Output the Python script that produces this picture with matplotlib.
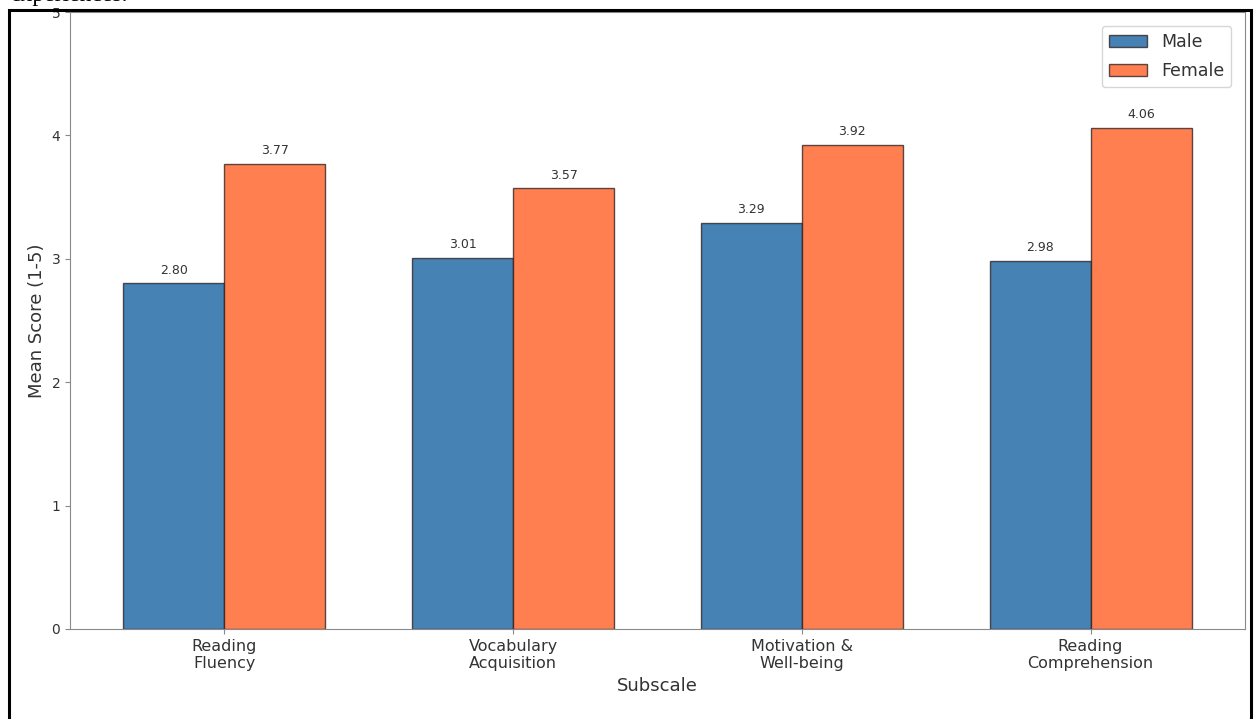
import matplotlib
matplotlib.use('Agg')
import matplotlib.pyplot as plt
import numpy as np
from matplotlib.patches import Rectangle

subscales = ['Reading\nFluency', 'Vocabulary\nAcquisition', 'Motivation &\nWell-being', 'Reading\nComprehension']
male_scores = [2.80, 3.01, 3.29, 2.98]
female_scores = [3.77, 3.57, 3.92, 4.06]

W, H = 1258, 719
fig = plt.figure(figsize=(W / 100, H / 100), dpi=100)
ax = fig.add_axes([70 / W, 1 - 629 / H, (1245 - 70) / W, (629 - 12) / H])

x = np.arange(len(subscales))
width = 0.35
edge = (0.15, 0.1, 0.1, 0.75)
b1 = ax.bar(x - width / 2, male_scores, width, label='Male', color='#4682B4',
            edgecolor=edge, linewidth=1.0)
b2 = ax.bar(x + width / 2, female_scores, width, label='Female', color='#FF7F50',
            edgecolor=edge, linewidth=1.0)

for bars in (b1, b2):
    for b in bars:
        ax.annotate(f'{b.get_height():.2f}', (b.get_x() + b.get_width() / 2, b.get_height()),
                    xytext=(0, 5), textcoords='offset points', ha='center', va='bottom',
                    fontsize=9, color='#333333')

ax.set_ylim(0, 5)
ax.set_xticks(x)
ax.set_xticklabels(subscales, fontsize=11.5)
ax.tick_params(axis='y', labelsize=10)
ax.tick_params(color='#888888', labelcolor='#333333')
for s in ax.spines.values():
    s.set_color('#8a8a8a')
ax.set_xlabel('Subscale', fontsize=13, color='#333333')
ax.set_ylabel('Mean Score (1-5)', fontsize=13, color='#333333')
leg = ax.legend(loc='upper right', fontsize=12.5, handlelength=2.2, labelspacing=0.65,
                borderaxespad=0.8)
for t in leg.get_texts():
    t.set_color('#333333')

# page frame and clipped caption from the source document
fig.patches.append(Rectangle((9 / W, -0.05), (1251 - 9) / W, 1.05 - 10 / H,
                             transform=fig.transFigure, fill=False,
                             edgecolor='black', linewidth=2.2))
fig.text(10 / W, 1 - 1.5 / H, 'experiences.', family='Liberation Serif', fontsize=17,
         va='baseline', ha='left', color='black')

fig.savefig('out.png', dpi=100)
